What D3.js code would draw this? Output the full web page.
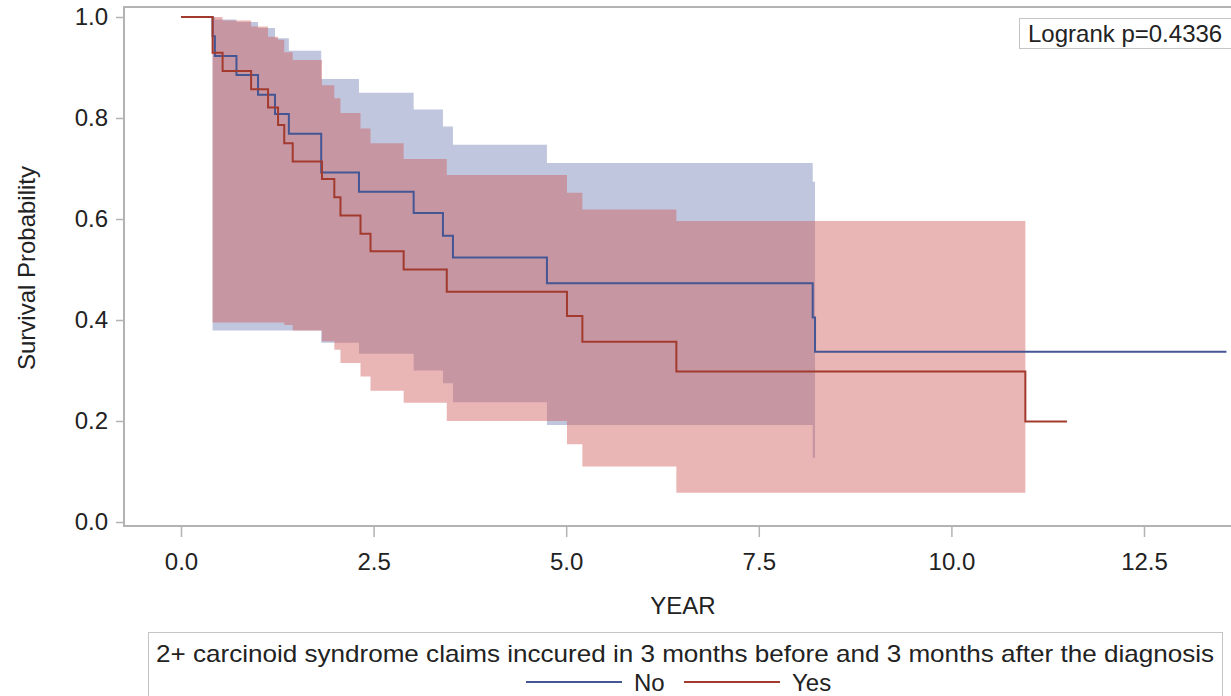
<!DOCTYPE html>
<html><head><meta charset="utf-8">
<script src="https://cdn.jsdelivr.net/npm/d3@7"></script>
<style>
html,body{margin:0;padding:0;background:#fff;}
svg{display:block;font-family:"Liberation Sans",Arial,sans-serif;}
</style></head>
<body><svg id="c" width="1231" height="696"></svg>
<script>
// ---- data ----
const xTicks = [0, 2.5, 5, 7.5, 10, 12.5];
const yTicks = [0, 0.2, 0.4, 0.6, 0.8, 1.0];
const groups = ["No", "Yes"];

// "No" group: event times and Kaplan-Meier survival after each time
const noTimes = [0, 0.41, 0.44, 0.72, 1.00, 1.22, 1.40, 1.82, 2.31, 3.02, 3.40, 3.53, 4.75, 8.20, 8.23];
const noSurv  = [1, 0.962, 0.923, 0.885, 0.846, 0.808, 0.769, 0.692, 0.654, 0.612, 0.567, 0.524, 0.473, 0.405, 0.337];
const noEnd = 13.57;
// confidence band for intervals starting at noTimes[1..13]
const noUpper = [1.0, 0.995, 0.990, 0.978, 0.958, 0.933, 0.877, 0.850, 0.817, 0.783, 0.747, 0.711, 0.674];
const noLower = [0.379, 0.379, 0.379, 0.379, 0.379, 0.379, 0.355, 0.333, 0.300, 0.275, 0.237, 0.192, 0.127];

// "Yes" group
const yesTimes = [0, 0.41, 0.54, 0.91, 1.13, 1.26, 1.34, 1.45, 1.83, 1.99, 2.07, 2.33, 2.46, 2.89, 3.45, 5.01, 5.21, 6.43, 10.96];
const yesSurv  = [1, 0.929, 0.893, 0.857, 0.821, 0.786, 0.750, 0.714, 0.679, 0.643, 0.607, 0.571, 0.536, 0.500, 0.456, 0.408, 0.357, 0.298, 0.199];
const yesEnd = 11.50;
const yesUpper = [1.0, 0.993, 0.981, 0.961, 0.955, 0.930, 0.915, 0.865, 0.839, 0.810, 0.779, 0.750, 0.719, 0.687, 0.652, 0.619, 0.596];
const yesLower = [0.395, 0.395, 0.395, 0.395, 0.395, 0.390, 0.379, 0.358, 0.341, 0.315, 0.288, 0.260, 0.236, 0.200, 0.154, 0.110, 0.058];

const pValueText = "Logrank p=0.4336";
const legendTitle = "2+ carcinoid syndrome claims inccured in 3 months before and 3 months after the diagnosis";
const xLabel = "YEAR";
const yLabel = "Survival Probability";

// ---- drawing ----
const svg = d3.select("#c");
const x = d3.scaleLinear().domain([0, 12.5]).range([181, 1144]);
const y = d3.scaleLinear().domain([0, 1]).range([522, 17]);
const frame = {l: 124, t: 7, r: 1240, b: 526};
const axisCol = "#b3b3b3", textCol = "#222";

svg.append("rect").attr("x", frame.l).attr("y", frame.t)
  .attr("width", frame.r - frame.l).attr("height", frame.b - frame.t)
  .attr("fill", "none").attr("stroke", axisCol).attr("stroke-width", 2);

function bandData(times, upper, lower) {
  const pts = upper.map((u, i) => ({t: times[i + 1], u: u, l: lower[i]}));
  const last = pts[pts.length - 1];
  pts.push({t: times[upper.length + 1], u: last.u, l: last.l});
  return pts;
}
function lineData(times, surv, end) {
  const pts = times.map((t, i) => ({t: t, s: surv[i]}));
  pts.push({t: end, s: surv[surv.length - 1]});
  return pts;
}
const area = d3.area().curve(d3.curveStepAfter)
  .x(d => x(d.t)).y0(d => y(d.l)).y1(d => y(d.u));
const line = d3.line().curve(d3.curveStepAfter)
  .x(d => x(d.t)).y(d => y(d.s));

const plot = svg.append("g");
plot.append("path").datum(bandData(noTimes, noUpper, noLower))
  .attr("d", area).attr("fill", "#6F7EB3").attr("fill-opacity", 0.44);
plot.append("path").datum(bandData(yesTimes, yesUpper, yesLower))
  .attr("d", area).attr("fill", "#D05B5B").attr("fill-opacity", 0.45);
plot.append("path").datum(lineData(noTimes, noSurv, noEnd))
  .attr("d", line).attr("fill", "none").attr("stroke", "#445694").attr("stroke-width", 2);
plot.append("path").datum(lineData(yesTimes, yesSurv, yesEnd))
  .attr("d", line).attr("fill", "none").attr("stroke", "#A23A2E").attr("stroke-width", 2);

// y axis
const yAxis = svg.append("g").attr("transform", `translate(${frame.l},0)`)
  .call(d3.axisLeft(y).tickValues(yTicks).tickFormat(d3.format(".1f")).tickSize(8).tickPadding(8));
yAxis.select(".domain").remove();
yAxis.selectAll("line").attr("stroke", axisCol).attr("stroke-width", 1.5);
yAxis.selectAll("text").attr("fill", textCol).attr("font-size", 24)
  .attr("font-family", "Liberation Sans, Arial, sans-serif");

// x axis
const xAxis = svg.append("g").attr("transform", `translate(0,${frame.b})`)
  .call(d3.axisBottom(x).tickValues(xTicks).tickFormat(d3.format(".1f")).tickSize(11).tickPadding(16));
xAxis.select(".domain").remove();
xAxis.selectAll("line").attr("stroke", axisCol).attr("stroke-width", 1.5);
xAxis.selectAll("text").attr("fill", textCol).attr("font-size", 24)
  .attr("font-family", "Liberation Sans, Arial, sans-serif");

svg.append("text").attr("x", 683).attr("y", 614).attr("text-anchor", "middle")
  .attr("font-size", 24).attr("fill", textCol).text(xLabel);
svg.append("text").attr("transform", "translate(35,268) rotate(-90)").attr("text-anchor", "middle")
  .attr("font-size", 24).attr("fill", textCol).text(yLabel);

// logrank box
svg.append("rect").attr("x", 1019.5).attr("y", 18.5).attr("width", 220).attr("height", 30)
  .attr("fill", "#fff").attr("stroke", "#c4c4c4");
svg.append("text").attr("x", 1028).attr("y", 42).attr("font-size", 24).attr("fill", textCol).text(pValueText);

// legend
svg.append("rect").attr("x", 148.5).attr("y", 632.5).attr("width", 1074).attr("height", 80)
  .attr("fill", "#fff").attr("stroke", "#c4c4c4");
svg.append("text").attr("x", 685).attr("y", 662).attr("text-anchor", "middle")
  .attr("font-size", 24).attr("fill", textCol)
  .attr("textLength", 1058).attr("lengthAdjust", "spacingAndGlyphs").text(legendTitle);
const legItems = [{name: groups[0], col: "#445694", x0: 526}, {name: groups[1], col: "#A23A2E", x0: 684}];
const lg = svg.append("g").selectAll("g").data(legItems).join("g");
lg.append("line").attr("x1", d => d.x0).attr("x2", d => d.x0 + 96).attr("y1", 682).attr("y2", 682)
  .attr("stroke", d => d.col).attr("stroke-width", 2);
lg.append("text").attr("x", d => d.x0 + 108).attr("y", 691).attr("font-size", 24).attr("fill", textCol)
  .text(d => d.name);
</script></body></html>
